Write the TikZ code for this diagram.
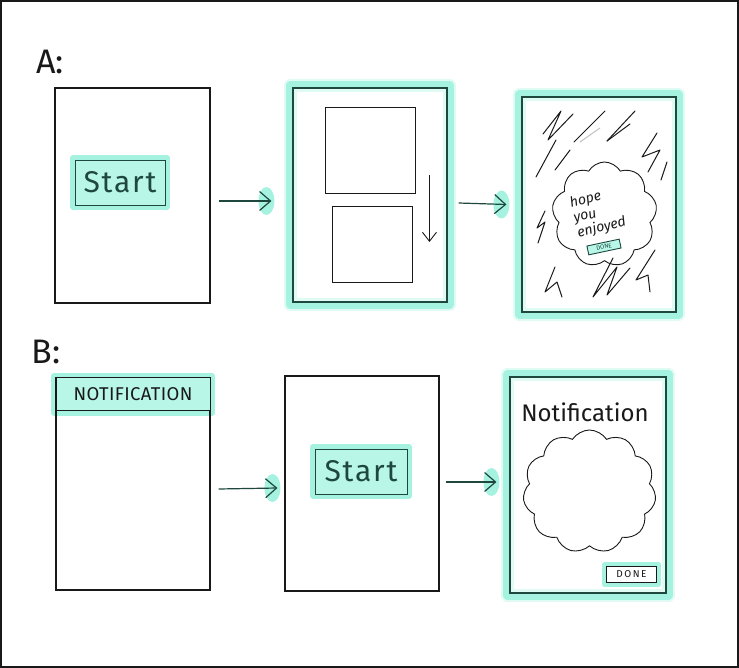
\documentclass[tikz,border=0pt]{standalone}
\usepackage{fontspec}
\setmainfont{Fira Sans}
\usetikzlibrary{shapes.symbols,arrows.meta}
\pgfdeclarelayer{bg}
\pgfsetlayers{bg,main}
\definecolor{glow}{RGB}{166,242,224}
\definecolor{btnfill}{RGB}{184,247,232}
\definecolor{ink}{RGB}{25,25,25}
\definecolor{tink}{RGB}{30,72,62}
\tikzset{
  screen/.style={draw=ink, line width=1.1pt, inner sep=0pt},
  gscreen/.style={draw=tink, line width=1.1pt, inner sep=0pt},
  glowline/.style={draw=glow, line width=8pt, line join=round, line cap=round},
  glowsoft/.style={draw=glow, line width=13pt, line join=round, line cap=round, opacity=0.35},
  glowthin/.style={draw=glow, line width=6pt, line join=round, line cap=round},
  btn/.style={draw=tink, line width=0.9pt, fill=btnfill, inner sep=0pt, text=tink,
    font=\fontsize{30}{30}\selectfont\addfontfeatures{LetterSpace=6}},
  arr/.style={draw=tink, line width=1.2pt, -{Straight Barb[length=11pt,width=19pt,line width=1.2pt]}},
  scrib/.style={draw=ink, line width=1pt, line cap=round, line join=round},
  lbl/.style={text=ink, font=\fontsize{34}{34}\selectfont, inner sep=0pt},
  cloudbox/.style={cloud, draw=ink, line width=0.9pt, fill=white, inner sep=0pt, aspect=1}
}
\begin{document}
\begin{tikzpicture}[x=1pt,y=-1pt]
\useasboundingbox (0,0) rectangle (739,668);
\draw[line width=2pt, ink] (1,1) rectangle (738,667);

% labels
\node[lbl] (la) at (50,62) {A:};
\node[lbl] (lb) at (46,352) {B:};

% screens
\node[screen, minimum width=155pt, minimum height=215pt] (a1) at (132.5,195.5) {};
\node[gscreen, minimum width=154pt, minimum height=214pt] (a2) at (370,195) {};
\node[gscreen, minimum width=154pt, minimum height=215pt] (a3) at (599,204.5) {};
\node[screen, minimum width=154pt, minimum height=212pt] (b1) at (133,484) {};
\node[screen, minimum width=154pt, minimum height=215pt] (b2) at (362,483.5) {};
\node[gscreen, minimum width=156pt, minimum height=216pt] (b3) at (588,485) {};

% buttons
\node[btn, minimum width=90pt, minimum height=45pt] (s1) at (120,182.5) {Start};
\node[btn, minimum width=92pt, minimum height=45pt] (s2) at (361,471.5) {Start};
\node[btn, anchor=north, minimum width=154pt, minimum height=33pt,
      font=\fontsize{18.5}{18.5}\selectfont\addfontfeatures{LetterSpace=2}, text=ink, draw=ink] (hdr) at (b1.north) {NOTIFICATION};

% A2 content
\node[draw=ink, line width=0.9pt, minimum width=90pt, minimum height=86pt] (r1) at (370,150) {};
\node[draw=ink, line width=0.9pt, minimum width=80pt, minimum height=76pt] (r2) at (372,244) {};
\coordinate (dtop) at ([xshift=14pt,yshift=18pt]r1.south east);
\coordinate (dbot) at ([xshift=17pt,yshift=2pt]r2.east);
\draw[draw=ink, line width=0.9pt, -{Straight Barb[length=9pt,width=14pt,line width=0.9pt]}] (dtop) -- (dbot);

% A3 content
\node[cloudbox, cloud puffs=9, cloud puff arc=120, minimum width=105pt, minimum height=105pt] (c1) at (604.5,214.5) {};
\node[text=ink, font=\itshape\fontsize{14}{15.5}\selectfont, rotate=14, align=left, inner sep=0pt] (t1) at (598,213) {hope\\you\\enjoyed};
\node[btn, minimum width=33pt, minimum height=9pt, rotate=12, font=\fontsize{6}{6}\selectfont] (d1) at (604,247) {DONE};

\draw[scrib] (543,134) -- (561,111) -- (548,140) -- (573,114);
\draw[scrib] (536,177) -- (556,140);
\draw[scrib] (555,170) -- (570,150);
\draw[scrib] (574,142) -- (605,111);
\draw[scrib] (607,141) -- (635,111);
\draw[scrib] (607,141) -- (630,124);
\draw[scrib, gray!50] (580,142) -- (600,128);
\draw[scrib] (657,133) -- (642,157) -- (660,150) -- (648,172);
\draw[scrib] (667,162) -- (661,180);
\draw[scrib] (545,211) -- (537,228) -- (545,222) -- (538,243);
\draw[scrib] (555,267) -- (545,292) -- (557,282) -- (562,297);
\draw[scrib] (613,258) -- (593,297) -- (617,267) -- (607,295) -- (630,268);
\draw[scrib] (655,250) -- (636,280) -- (648,275) -- (650,292);

% B3 content
\node[text=ink, font=\fontsize{24}{24}\selectfont] (nt) at (585,412) {Notification};
\node[cloudbox, cloud puffs=11, cloud puff arc=115, minimum width=133pt, minimum height=123pt] (c2) at (589.5,491.5) {};
\node[draw=ink, line width=0.9pt, fill=white, minimum width=50pt, minimum height=16pt, inner sep=0pt,
      font=\fontsize{10}{10}\selectfont\addfontfeatures{LetterSpace=15}, text=ink] (d2) at (631.5,574.5) {DONE};

% arrows
\coordinate (p1) at ([xshift=8pt,yshift=-5.5pt]a1.east);
\coordinate (q1) at ([xshift=-21pt,yshift=-6pt]a2.west);
\coordinate (p2) at ([xshift=11pt,yshift=-8pt]a2.east);
\coordinate (q2) at ([xshift=-15pt,yshift=0pt]a3.west);
\coordinate (p3) at ([xshift=8pt,yshift=-5pt]b1.east);
\coordinate (q3) at ([xshift=-7pt,yshift=-4.5pt]b2.west);
\coordinate (p4) at ([xshift=6pt,yshift=1.5pt]b2.east);
\coordinate (q4) at ([xshift=-13pt,yshift=3pt]b3.west);
\draw[arr] (p1) -- (q1);
\draw[arr] (p2) -- (q2);
\draw[arr] (p3) -- (q3);
\draw[arr] (p4) -- (q4);

% glow layer
\begin{pgfonlayer}{bg}
  \foreach \n in {a2,a3,b3} {
    \draw[glowsoft] ([shift={(-2pt,2pt)}]\n.north west) rectangle ([shift={(2pt,-2pt)}]\n.south east);
    \draw[glowline] ([shift={(-2pt,2pt)}]\n.north west) rectangle ([shift={(2pt,-2pt)}]\n.south east);
  }
  \foreach \n in {s1,s2,hdr,d2}
    \draw[glowthin] ([shift={(-1.5pt,1.5pt)}]\n.north west) rectangle ([shift={(1.5pt,-1.5pt)}]\n.south east);
  \foreach \q in {q1,q2,q3,q4}
    \fill[glow] ([xshift=-5pt]\q) ellipse (8pt and 14pt);
\end{pgfonlayer}
\end{tikzpicture}
\end{document}
